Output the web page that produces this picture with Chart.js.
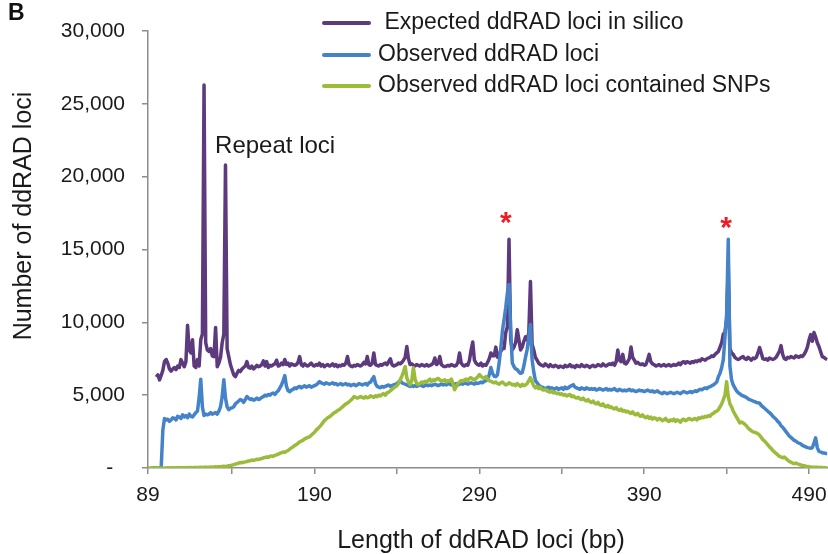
<!DOCTYPE html>
<html>
<head>
<meta charset="utf-8">
<script src="https://cdn.jsdelivr.net/npm/chart.js@4.4.1/dist/chart.umd.min.js"></script>
<style>
  body { margin: 0; background: #ffffff; }
  #wrap { width: 828px; height: 554px; }
</style>
</head>
<body>
<div id="wrap"><canvas id="lociChart" width="828" height="554"></canvas></div>
<script>
// length of the loci in bp, one category per bp (89 .. 501)
const lengths = [];
for (let bp = 89; bp <= 501; bp++) lengths.push(bp);

const seriesNames = [" Expected ddRAD loci in silico", "Observed ddRAD loci", "Observed ddRAD loci contained SNPs"];

// values, one per bp starting at 89 bp
const expectedLoci = [
  null,null,null,null,null,6250,6400,6050,6350,6700,
  7300,7450,7200,6800,6650,6800,6900,6750,7000,6900,
  7440,7200,6950,7300,9800,8100,7900,8800,7000,6900,
  7440,7000,8800,9200,26300,8600,8100,8000,8200,7700,
  7650,9650,6950,7200,7600,8600,9200,20800,8200,7650,
  7100,6750,6400,6270,6500,6700,6620,6800,6900,7000,
  7300,6900,6850,7000,6800,6900,7050,6950,7000,7100,
  7350,7000,7300,6900,7050,7000,7100,7150,7400,7000,
  7050,7200,7100,7450,7100,7200,7000,7150,7100,7050,
  7100,7250,7650,7100,7000,7150,7050,7000,7100,7200,
  7050,7000,7100,7050,7200,7000,7100,6950,7050,7100,
  7000,7050,7150,7000,7100,6950,7050,7000,7100,7050,
  7200,7650,7100,7000,6950,7050,7000,7100,7050,7000,
  7100,7250,7150,7650,7100,7050,7200,7900,7100,7050,
  7000,7100,7050,7150,7200,7100,7300,7500,7100,7000,
  7050,7100,7200,7150,7250,7400,7600,8340,7500,7100,
  7150,7050,7000,7100,7050,7000,7100,7050,7000,7100,
  7000,7050,7100,7200,7550,7100,7200,7650,7100,7000,
  6950,7000,7050,7000,7100,7050,7000,7050,7250,7900,
  7200,7050,7000,7100,7050,7400,8100,8650,7400,7200,
  7100,7050,7200,7000,7100,7050,7250,7500,7900,7700,
  7700,8300,7600,7800,8000,8200,8200,9300,9700,15700,
  8800,8100,8300,8600,9500,8800,8100,8300,8700,9000,
  8800,9300,12800,8500,8100,7600,7400,7200,7100,7050,
  7000,7150,7050,6950,7100,7000,6950,7050,7000,6900,
  7000,6950,6900,7050,6950,7000,7100,6950,7000,6900,
  7050,7000,6950,7100,7000,6950,7050,7000,6900,7000,
  7050,6950,7000,7100,7050,7000,7150,7050,7000,7100,
  7150,7100,7200,7050,7300,8100,7400,7300,7800,7200,
  7150,7300,7500,8300,7600,7400,7200,7250,7150,7100,
  7150,7050,7100,7400,7800,7300,7150,7100,7000,7050,
  7100,7000,7050,7100,7000,7050,7100,7000,7050,7100,
  7050,7100,7200,7100,7250,7300,7200,7300,7250,7200,
  7300,7250,7350,7300,7400,7350,7500,7450,7400,7500,
  7550,7600,7700,7650,7800,7900,8000,8300,8600,9200,
  9300,10200,13800,8200,7900,7800,7600,7500,7450,7500,
  7600,7650,7500,7450,7600,7500,7400,7550,7500,7600,
  7900,8270,7900,7500,7450,7500,7400,7550,7500,7450,
  7500,7600,7800,8000,8400,7800,7500,7450,7600,7550,
  7650,7600,7550,7700,7650,7600,7700,7650,7800,8000,
  8300,8800,9160,8700,9300,9000,8600,8340,8000,7650,
  7600,7500,7450
];

const observedLoci = [
  null,null,0,0,0,0,0,0,0,2600,
  3400,3300,3350,3200,3300,3450,3400,3300,3550,3500,
  3400,3650,3500,3600,3450,3700,3550,3500,3650,3800,
  3900,4800,6100,4200,3600,3700,3650,3700,3800,3700,
  3750,3800,3700,3900,4200,4900,6060,4800,4200,4000,
  4100,4130,4200,4400,4500,4600,4700,4650,4500,4700,
  4900,4800,4700,4750,4650,4700,4800,4700,4750,4850,
  4900,5000,4950,5050,5000,5100,5150,5050,5200,5300,
  5500,5700,6000,6340,5600,5300,5240,5350,5400,5500,
  5450,5550,5600,5500,5580,5650,5550,5600,5650,5550,
  5600,5650,5700,5800,5930,5850,5800,5750,5850,5800,
  5750,5800,5850,5750,5800,5700,5750,5800,5700,5750,
  5800,5700,5750,5650,5700,5750,5650,5700,5800,5750,
  5700,5750,5800,5700,5850,5900,6100,6270,5800,5600,
  5550,5510,5600,5550,5600,5650,5700,5600,5650,5700,
  5750,5800,5900,6000,5850,5800,5750,5700,5650,5600,
  5650,5600,5650,5600,5650,5700,5650,5600,5650,5700,
  5650,5700,5650,5700,5750,5700,5650,5700,5750,5700,
  5750,5700,5800,5750,5700,5800,5750,5800,5700,5750,
  5800,5750,5850,5800,5750,5800,5850,5800,5750,5850,
  5800,5850,5900,5850,5950,6000,6100,6400,6900,6500,
  6300,6270,6400,7200,8200,9400,10200,11000,12000,12600,
  9500,7200,6960,6800,6750,6600,6500,6550,7000,7600,
  8130,9000,9850,7440,6600,6000,5860,5700,5600,5550,
  5500,5450,5500,5550,5450,5500,5400,5450,5500,5400,
  5450,5500,5400,5550,5450,5500,5600,5650,5720,5550,
  5500,5450,5400,5500,5450,5400,5500,5450,5400,5450,
  5400,5450,5350,5400,5450,5400,5350,5400,5450,5350,
  5400,5350,5400,5450,5350,5300,5400,5350,5300,5350,
  5300,5350,5400,5300,5350,5300,5250,5300,5350,5300,
  5300,5250,5300,5350,5300,5250,5300,5200,5250,5300,
  5200,5150,5100,5200,5150,5100,5150,5200,5150,5100,
  5150,5200,5150,5100,5200,5250,5200,5150,5200,5250,
  5170,5250,5300,5250,5350,5400,5370,5450,5500,5450,
  5550,5580,5650,5700,5800,5900,6270,6500,6900,7440,
  9000,10500,15700,7000,6060,5700,5500,5300,5170,5100,
  5000,4950,4900,4850,4750,4700,4650,4600,4550,4500,
  4480,4450,4300,4200,4100,4000,3900,3800,3700,3550,
  3450,3350,3200,3100,2900,2800,2650,2500,2350,2200,
  2100,2000,1900,1850,1750,1700,1650,1550,1500,1450,
  1400,1380,1350,1400,1700,2070,1400,1150,1100,1050,
  1030,1000,1000
];

const snpLoci = [
  0,0,0,0,0,0,0,0,0,0,
  0,0,10,0,10,10,0,10,20,10,
  10,20,10,20,30,20,30,20,30,40,
  30,40,50,40,50,60,50,60,70,60,
  70,80,70,90,80,100,120,110,130,150,
  170,200,230,260,300,340,380,360,400,420,
  450,480,500,550,530,560,600,580,620,650,
  700,720,760,740,800,830,810,870,900,950,
  1000,1050,1100,1080,1150,1200,1300,1380,1450,1550,
  1600,1700,1790,1850,1900,2000,2050,2100,2140,2250,
  2350,2450,2600,2700,2820,2950,3100,3250,3350,3450,
  3510,3600,3700,3800,3850,3950,4000,4100,4200,4300,
  4400,4450,4550,4650,4750,4900,4850,4800,4850,4900,
  4850,4800,4900,4820,4850,4950,4900,4850,4950,4900,
  5000,4950,5050,5100,5000,5170,5200,5300,5400,5500,
  5580,5650,5800,6060,6300,6600,6960,6200,5900,5720,
  6000,6890,6100,5800,5720,5800,5900,5850,5950,5900,
  6000,6100,5950,6050,6000,6100,6150,6050,5950,6000,
  6050,5900,6000,5950,6100,5800,5370,5600,5800,5900,
  6000,5950,6050,6100,6000,6150,6200,6100,6050,6150,
  6250,6410,6300,6200,6150,6270,6100,6000,5950,5900,
  5850,5900,5800,5750,5850,5900,5800,5700,5750,5850,
  5800,5700,5750,5650,5800,5700,5600,5750,5650,5700,
  5800,6000,6200,5900,5650,5500,5600,5450,5550,5400,
  5350,5400,5300,5250,5200,5300,5150,5200,5100,5150,
  5050,5100,5000,5050,4950,5000,5050,4900,4950,4850,
  4800,4850,4750,4700,4800,4650,4600,4700,4550,4500,
  4600,4450,4400,4500,4350,4300,4400,4250,4200,4300,
  4150,4200,4100,4050,4150,4000,3950,4050,3900,3950,
  3850,3900,3800,3750,3850,3700,3650,3750,3600,3550,
  3650,3500,3450,3550,3400,3500,3350,3450,3400,3300,
  3400,3350,3250,3300,3400,3250,3200,3300,3250,3350,
  3200,3300,3250,3150,3300,3350,3250,3300,3400,3350,
  3300,3350,3400,3300,3450,3400,3500,3450,3550,3500,
  3600,3550,3700,3750,3850,3900,4000,4200,4400,4700,
  5000,5930,4900,4400,4200,3900,3700,3500,3300,3100,
  3150,3100,3000,2900,2750,2650,2550,2480,2450,2410,
  2350,2250,2100,1950,1850,1720,1600,1450,1350,1200,
  1100,1000,900,800,760,700,760,650,550,450,
  400,340,300,340,280,250,200,180,150,120,
  100,80,70,60,50,60,50,40,30,30,
  20,20,10
];

const yTickValues = [0, 5000, 10000, 15000, 20000, 25000, 30000];
const xTickValues = [89, 140, 190, 240, 290, 340, 390, 440, 490];
const xTickLabels = ["89", "", "190", "", "290", "", "390", "", "490"];

// peaks marked with a red star, [bp, height of the star]
const starPeaks = [[306, 17400], [439.7, 17000]];

const FONT = '"Liberation Sans", Arial, sans-serif';
const colors = ["#5d3a7e", "#4583c9", "#9bbb3a"];
const axisGrey = "#8c8c8c";

// Legend, panel letter, annotations and y title drawn on top
const overlayPlugin = {
  id: "overlay",
  afterDraw(chart) {
    const ctx = chart.ctx;
    const x = chart.scales.x;
    const y = chart.scales.y;
    ctx.save();

    ctx.fillStyle = "#111";
    ctx.font = "bold 23px " + FONT;
    ctx.textBaseline = "middle";
    ctx.textAlign = "left";
    ctx.fillText("B", 8, 14);

    // legend
    const rows = [23, 55, 86];
    ctx.font = "23px " + FONT;
    chart.data.datasets.forEach((ds, i) => {
      ctx.strokeStyle = ds.borderColor;
      ctx.lineWidth = 4;
      ctx.lineCap = "round";
      ctx.beginPath();
      ctx.moveTo(324, rows[i]);
      ctx.lineTo(369, rows[i]);
      ctx.stroke();
      ctx.fillStyle = "#1a1a1a";
      ctx.fillText(seriesNames[i], 378, rows[i]);
    });

    ctx.font = "24px " + FONT;
    ctx.fillText("Repeat loci", x.getPixelForValue(129.7), y.getPixelForValue(22100));

    // red stars above the peaks
    ctx.fillStyle = "#ee1c25";
    ctx.font = "bold 30px " + FONT;
    ctx.textAlign = "center";
    ctx.textBaseline = "alphabetic";
    starPeaks.forEach(p => {
      ctx.fillText("*", x.getPixelForValue(p[0]), y.getPixelForValue(p[1]) + 17);
    });

    // axis titles
    ctx.fillStyle = "#1a1a1a";
    ctx.font = "25px " + FONT;
    ctx.textBaseline = "middle";
    ctx.fillText("Length of ddRAD loci (bp)", 481, 541);
    ctx.translate(24, 216);
    ctx.rotate(-Math.PI / 2);
    ctx.fillText("Number of ddRAD loci", 0, 0);

    ctx.restore();
  }
};

function makeLine(label, data, color, order) {
  return {
    label: label,
    data: data,
    borderColor: color,
    backgroundColor: color,
    borderWidth: 3.5,
    pointRadius: 0,
    tension: 0,
    borderJoinStyle: "round",
    order: order
  };
}

new Chart(document.getElementById("lociChart"), {
  type: "line",
  data: {
    labels: lengths,
    datasets: [
      makeLine(seriesNames[0], expectedLoci, colors[0], 3),
      makeLine(seriesNames[1], observedLoci, colors[1], 2),
      makeLine(seriesNames[2], snpLoci, colors[2], 1)
    ]
  },
  options: {
    responsive: false,
    animation: false,
    layout: { padding: { top: 31, right: 0, left: 0, bottom: 0 } },
    plugins: {
      legend: { display: false },
      tooltip: { enabled: false }
    },
    scales: {
      x: {
        type: "linear",
        min: 89,
        max: 501.5,
        afterBuildTicks: s => { s.ticks = xTickValues.map(v => ({ value: v })); },
        afterFit: s => { s.height = 86; s.paddingRight = 0; },
        ticks: {
          autoSkip: false,
          maxRotation: 0,
          padding: 9,
          color: "#1a1a1a",
          font: { family: FONT, size: 21 },
          callback: (v) => xTickLabels[xTickValues.indexOf(v)]
        },
        grid: { drawOnChartArea: false, drawTicks: true, tickLength: 6, color: axisGrey, lineWidth: 1.5 },
        border: { color: axisGrey, width: 1.5 }
      },
      y: {
        min: 0,
        max: 30000,
        afterBuildTicks: s => { s.ticks = yTickValues.map(v => ({ value: v })); },
        afterFit: s => { s.width = 148; },
        ticks: {
          padding: 17,
          color: "#1a1a1a",
          font: { family: FONT, size: 21 },
          callback: (v) => v === 0 ? "-  " : v.toLocaleString("en-US")
        },
        grid: { drawOnChartArea: false, drawTicks: true, tickLength: 6, color: axisGrey, lineWidth: 1.5 },
        border: { color: axisGrey, width: 1.5 }
      }
    }
  },
  plugins: [overlayPlugin]
});
</script>
</body>
</html>
